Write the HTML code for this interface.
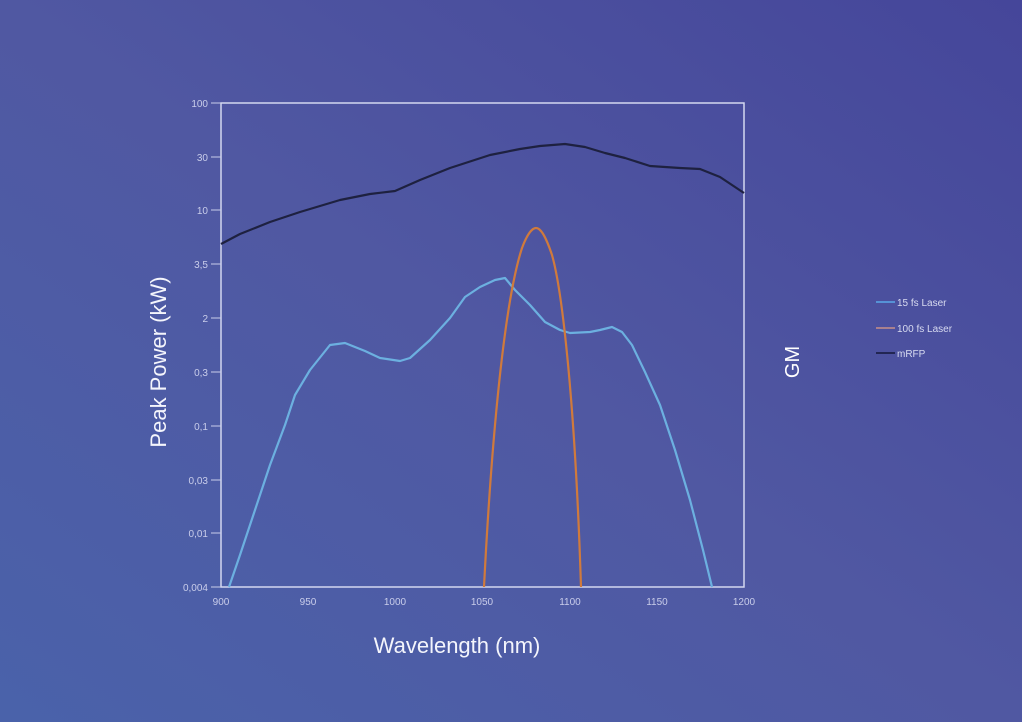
<!DOCTYPE html>
<html><head><meta charset="utf-8"><style>
html,body{margin:0;padding:0}
body{width:1022px;height:722px;overflow:hidden;background:linear-gradient(35deg,#4a62aa 0%,#5058a2 50%,#45469a 100%);font-family:"Liberation Sans",sans-serif}
</style></head><body>
<svg width="1022" height="722" style="position:absolute;left:0;top:0" font-family="Liberation Sans, sans-serif">
<rect x="221" y="103" width="523" height="484" fill="none" stroke="#d4d8f0" stroke-width="1.5"/>
<g fill="#c9cdea" font-size="10" text-anchor="end">
<text x="208" y="107">100</text><text x="208" y="161">30</text><text x="208" y="214">10</text>
<text x="208" y="268">3,5</text><text x="208" y="322">2</text><text x="208" y="376">0,3</text>
<text x="208" y="430">0,1</text><text x="208" y="484">0,03</text><text x="208" y="537">0,01</text><text x="208" y="591">0,004</text>
</g>
<g stroke="#c9cdea" stroke-width="1">
<line x1="211" y1="103" x2="221" y2="103"/><line x1="211" y1="157" x2="221" y2="157"/><line x1="211" y1="210" x2="221" y2="210"/>
<line x1="211" y1="264" x2="221" y2="264"/><line x1="211" y1="318" x2="221" y2="318"/><line x1="211" y1="372" x2="221" y2="372"/>
<line x1="211" y1="426" x2="221" y2="426"/><line x1="211" y1="480" x2="221" y2="480"/><line x1="211" y1="533" x2="221" y2="533"/>
<line x1="211" y1="587" x2="221" y2="587"/>
</g>
<g fill="#c9cdea" font-size="10" text-anchor="middle">
<text x="221" y="605">900</text><text x="308" y="605">950</text><text x="395" y="605">1000</text>
<text x="482" y="605">1050</text><text x="570" y="605">1100</text><text x="657" y="605">1150</text><text x="744" y="605">1200</text>
</g>
<text x="457" y="653" fill="#f4f5fc" font-size="22" text-anchor="middle">Wavelength (nm)</text>
<text transform="translate(166,362) rotate(-90)" fill="#f4f5fc" font-size="22" text-anchor="middle">Peak Power (kW)</text>
<text transform="translate(799,362) rotate(-90)" fill="#fff" font-size="20" text-anchor="middle">GM</text>
<polyline fill="none" stroke="#1e2140" stroke-width="2.2" stroke-linejoin="round" points="221,244 240,234 270,222 300,212 340,200 370,194 395,191 420,180 450,168 490,155 520,149 540,146 565,144 585,147 605,153 625,158 650,166 680,168 700,169 720,177 744,193"/>
<polyline fill="none" stroke="#6cb0e0" stroke-width="2.2" stroke-linejoin="round" points="229,587 240,555 255,510 270,465 285,425 295,395 310,370 330,345 345,343 355,347 365,351 380,358 400,361 410,358 430,340 450,318 465,297 480,287 495,280 505,278 515,290 530,305 545,322 560,330 570,333 590,332 600,330 612,327 622,332 632,345 645,372 660,405 675,450 690,500 703,550 712,587"/>
<path fill="none" stroke="#d07a3c" stroke-width="2.2" d="M484,587 C492,430 505,300 522,248 C528,232 533,228 536,228 C540,228 545,234 552,255 C562,290 575,400 581,587"/>
<g font-size="10" fill="#d8dbf0">
<line x1="876" y1="302" x2="895" y2="302" stroke="#5aa8e8" stroke-width="1.5"/><text x="897" y="306">15 fs Laser</text>
<line x1="876" y1="328" x2="895" y2="328" stroke="#c89088" stroke-width="1.5"/><text x="897" y="332">100 fs Laser</text>
<line x1="876" y1="353" x2="895" y2="353" stroke="#15183a" stroke-width="1.5"/><text x="897" y="357">mRFP</text>
</g>
</svg>
</body></html>
